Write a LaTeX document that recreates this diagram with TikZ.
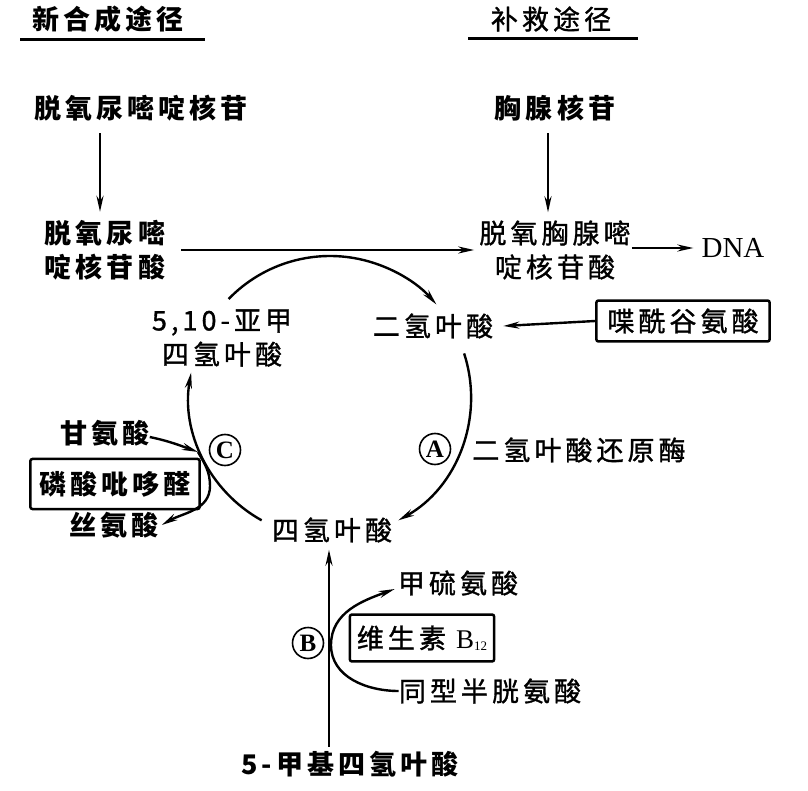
\documentclass[tikz,border=0pt]{standalone}
\usepackage{fontspec}
\setmainfont{Noto Sans CJK SC}[LetterSpace=15, UprightFeatures={FakeBold=1.2}]
\newfontfamily\serifen{Liberation Serif}
\usetikzlibrary{arrows.meta}
\begin{document}
\begin{tikzpicture}[x=1pt,y=-1pt,
  lbl/.style={font=\fontsize{27}{34}\selectfont, inner sep=0pt, align=center},
  blbl/.style={font=\fontsize{27}{34}\selectfont\bfseries, inner sep=0pt, align=center},
  arr/.style={line width=2.4pt, -{Stealth[length=16pt,width=7pt]}},
  boxed/.style={draw, line width=2.5pt, rounded corners=2pt},
  circ/.style={draw, circle, line width=1.6pt, inner sep=0pt, minimum size=31pt,
    font=\serifen\bfseries\fontsize{25}{25}\selectfont}
]
\useasboundingbox (0,0) rectangle (808,791);

% titles
\node[blbl] (t1) at (108,19) {新合成途径};
\node[lbl]  (t2) at (551,19) {补救途径};
\draw[line width=3pt] (20,40) -- (205,40);
\draw[line width=3pt] (468,39) -- (638,39);

% top substances
\node[blbl] (dur)  at (141,108) {脱氧尿嘧啶核苷};
\node[blbl] (thy)  at (555,108) {胸腺核苷};
\node[blbl] (dump) at (105,250) {脱氧尿嘧\\啶核苷酸};
\node[lbl]  (dtmp) at (555,250) {脱氧胸腺嘧\\啶核苷酸};
\node[inner sep=0pt, font=\serifen\fontsize{29}{29}\selectfont] (dna) at (733,248) {DNA};

\draw[arr] ([xshift=-41pt,yshift=-12pt]dur.south) -- ([xshift=-5pt,yshift=8pt]dump.north);
\draw[arr] ([xshift=-7pt,yshift=-12pt]thy.south) -- ([xshift=-7pt,yshift=8pt]dtmp.north);
\draw[arr] ([xshift=16pt]dump.east) -- ([xshift=-5pt]dtmp.west);
\draw[arr] ([xshift=1pt,yshift=2pt]dtmp.east) -- ([xshift=-8pt]dna.west);

% folate cycle
\node[lbl] (m10) at (222,338) {5,10-亚甲\\四氢叶酸};
\node[lbl] (dhf) at (433,326) {二氢叶酸};
\node[lbl, boxed, inner xsep=11pt, inner ysep=8pt] (pga) at (683,321) {喋酰谷氨酸};
\draw[arr] (pga.west) -- ([xshift=10pt]dhf.east);

\coordinate (O) at (330,397);
\draw[arr] ([shift={(-136:141)}]O) arc[start angle=-136, end angle=-41, radius=141];
\draw[arr] ([shift={(-18:141)}]O) arc[start angle=-18, end angle=61, radius=141];
\draw[arr] ([shift={(119:141)}]O) arc[start angle=119, end angle=190, radius=141];

\node[circ] (ca) at (435,449) {A};
\node[lbl] (dhfr) at (579,450) {二氢叶酸还原酶};
\node[lbl] (thf) at (332,530) {四氢叶酸};

% serine / glycine
\node[circ] (cc) at (225,450) {C};
\node[blbl] (gly) at (105,433) {甘氨酸};
\node[blbl, boxed, inner xsep=9pt, inner ysep=12pt] (plp) at (115,484) {磷酸吡哆醛};
\node[blbl] (ser) at (114,525) {丝氨酸};
\coordinate (cg) at (198,452);
\coordinate (cm) at (210,486);
\draw[arr] ([yshift=-4pt]gly.east) to[out=-12,in=160] (cg);
\draw[arr] (cg) to[out=-60,in=90] (cm) to[out=-90,in=30] ([xshift=3pt]ser.east);

% methionine
\node[blbl] (mthf) at (350,764) {5-甲基四氢叶酸};
\draw[arr] ([xshift=-21pt,yshift=4pt]mthf.north) -- ([xshift=-3pt,yshift=-7pt]thf.south);
\node[circ] (cb) at (308,643) {B};
\node[lbl] (met) at (458,583) {甲硫氨酸};
\node[lbl, boxed, inner xsep=7pt, inner ysep=11pt] (b12) at (422,638)
  {维生素 {\serifen B\raisebox{-2pt}{\fontsize{13}{13}\selectfont 12}}};
\node[lbl] (hcy) at (490,691) {同型半胱氨酸};
\coordinate (bt) at (331,645);
\draw[arr] (hcy.west) to[out=180,in=-90] (bt) to[out=90,in=200] ([xshift=-3pt,yshift=-6pt]met.west);
\end{tikzpicture}
\end{document}
